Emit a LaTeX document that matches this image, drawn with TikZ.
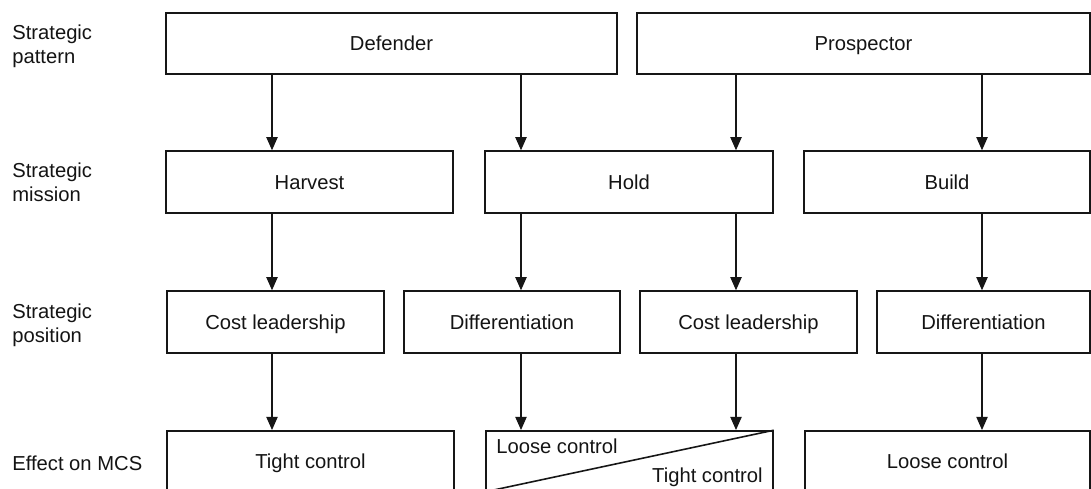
\documentclass[tikz,border=0pt]{standalone}
\usepackage{fontspec}
\setsansfont{Liberation Sans}
\usetikzlibrary{arrows.meta,positioning}
\definecolor{msedge}{RGB}{22,22,22}
\definecolor{msink}{RGB}{20,20,20}
\tikzset{
  mstext/.style={font=\fontsize{11.5}{13.6}\selectfont\sffamily, text=msink},
  msbox/.style={
    draw=msedge, line width=0.9pt, fill=white,
    align=center, inner sep=2pt, mstext,
    text height=10pt, text depth=1.8pt
  },
  stage/.style={msbox, minimum height=1.23cm},
  rowlbl/.style={mstext, anchor=west, align=left, inner sep=0pt},
  celltxt/.style={mstext, inner sep=0pt},
  arr/.style={-{Triangle[length=7.6pt,width=6.2pt]}, draw=msedge, line width=1.4pt},
  diag/.style={draw=msedge, line width=0.9pt}
}

\begin{document}
\begin{tikzpicture}[x=0.02cm, y=-0.02cm]
  \clip (0,0) rectangle (1091,488);
  \fill[white] (0,0) rectangle (1091,488);

  % row labels
  \node[rowlbl] (lpat) at (12,46) {Strategic\\pattern};
  \node[rowlbl] (lmis) at (12,182) {Strategic\\mission};
  \node[rowlbl] (lpos) at (12,325) {Strategic\\position};
  \node[rowlbl] (lmcs) at (12,463) {Effect on MCS};

  % strategic pattern
  \node[stage, minimum width=9.02cm] (defender) at (391.5,43.5) {Defender};
  \node[stage, minimum width=9.06cm] (prospector) at (863.5,43.5) {Prospector};

  % strategic mission
  \node[stage, minimum width=5.74cm] (harvest) at (309.5,182) {Harvest};
  \node[stage, minimum width=5.76cm] (hold) at (629,182) {Hold};
  \node[stage, minimum width=5.72cm] (build) at (947,182) {Build};

  % strategic position
  \node[stage, minimum width=4.34cm] (costa) at (275.5,322) {Cost leadership};
  \node[stage, minimum width=4.32cm] (diffa) at (512,322) {Differentiation};
  \node[stage, minimum width=4.34cm] (costb) at (748.5,322) {Cost leadership};
  \node[stage, minimum width=4.26cm] (diffb) at (983.5,322) {Differentiation};

  % effect on MCS
  \node[stage, minimum width=5.74cm, minimum height=1.2cm] (tight) at (310.5,461) {Tight control};
  \node[stage, minimum width=5.74cm, minimum height=1.2cm] (mixed) at (629.5,461) {};
  \node[stage, minimum width=5.70cm, minimum height=1.2cm] (loose) at (947.5,461) {Loose control};
  \draw[diag] (mixed.north east) -- (mixed.south west);
  \node[celltxt, anchor=west] (mixloose) at (496,446) {Loose control};
  \node[celltxt, anchor=east] (mixtight) at (763,477) {Tight control};

  % arrow columns
  \coordinate (ca) at (272,0);
  \coordinate (cb) at (521,0);
  \coordinate (cc) at (736,0);
  \coordinate (cd) at (982,0);

  \draw[arr] (defender.south -| ca) -- (harvest.north -| ca);
  \draw[arr] (defender.south -| cb) -- (hold.north -| cb);
  \draw[arr] (prospector.south -| cc) -- (hold.north -| cc);
  \draw[arr] (prospector.south -| cd) -- (build.north -| cd);

  \draw[arr] (harvest.south -| ca) -- (costa.north -| ca);
  \draw[arr] (hold.south -| cb) -- (diffa.north -| cb);
  \draw[arr] (hold.south -| cc) -- (costb.north -| cc);
  \draw[arr] (build.south -| cd) -- (diffb.north -| cd);

  \draw[arr] (costa.south -| ca) -- (tight.north -| ca);
  \draw[arr] (diffa.south -| cb) -- (mixed.north -| cb);
  \draw[arr] (costb.south -| cc) -- (mixed.north -| cc);
  \draw[arr] (diffb.south -| cd) -- (loose.north -| cd);
\end{tikzpicture}
\end{document}
